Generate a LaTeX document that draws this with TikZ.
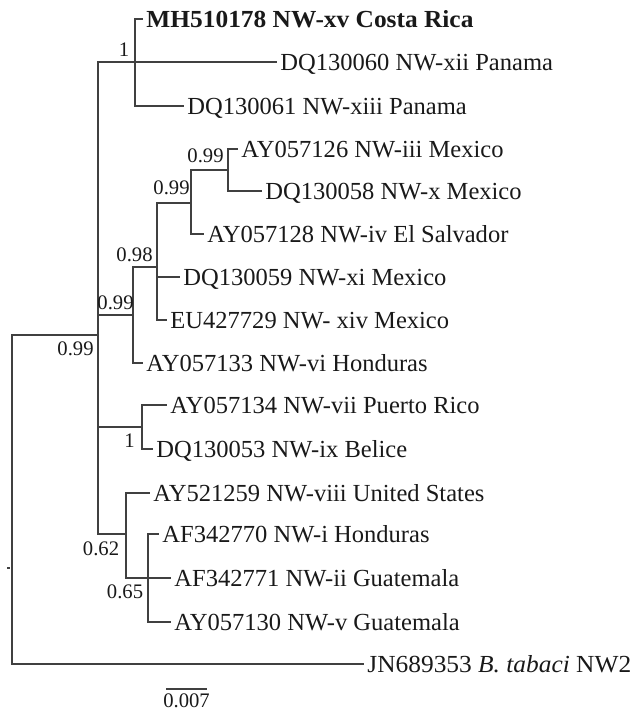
\documentclass[tikz,border=0pt]{standalone}
\usepackage{fontspec}
\setmainfont{Liberation Serif}
\begin{document}
\begin{tikzpicture}[x=0.75pt,y=-0.75pt,
  br/.style={draw=black!75, line width=1.2pt},
  leaf/.style={anchor=west, inner xsep=2.4pt, inner ysep=0pt, text height=12.1pt, text depth=0pt,
    font=\fontsize{18.4}{20}\selectfont, text=black!90},
  wide/.style={font=\fontsize{18.4}{20}\selectfont\addfontfeature{FakeStretch=1.035}},
  sup/.style={anchor=base, inner sep=0pt, font=\fontsize{15.5}{17}\selectfont, text=black!90}]
\useasboundingbox (0,0) rectangle (632,712);
% internal nodes
\coordinate (R) at (12,499.5);
\coordinate (A) at (98,335);
\coordinate (B) at (135,62);
\coordinate (C) at (133,315);
\coordinate (F) at (157,267);
\coordinate (G) at (191,203);
\coordinate (H) at (228,170);
\coordinate (D) at (142,427);
\coordinate (E) at (126,534);
\coordinate (I) at (148,578);
% leaves
\node[leaf, wide] (t1) at (143,19) {\textbf{MH510178 NW-xv Costa Rica}};
\node[leaf] (t2) at (277,62) {DQ130060 NW-xii Panama};
\node[leaf] (t3) at (184,106) {DQ130061 NW-xiii Panama};
\node[leaf] (t4) at (238,149) {AY057126 NW-iii Mexico};
\node[leaf] (t5) at (262,191) {DQ130058 NW-x Mexico};
\node[leaf] (t6) at (204,234) {AY057128 NW-iv El Salvador};
\node[leaf] (t7) at (180,277) {DQ130059 NW-xi Mexico};
\node[leaf] (t8) at (167,320) {EU427729 NW- xiv Mexico};
\node[leaf] (t9) at (143,363) {AY057133 NW-vi Honduras};
\node[leaf] (t10) at (167,405) {AY057134 NW-vii Puerto Rico};
\node[leaf] (t11) at (153,449) {DQ130053 NW-ix Belice};
\node[leaf] (t12) at (150,493) {AY521259 NW-viii United States};
\node[leaf] (t13) at (159,534) {AF342770 NW-i Honduras};
\node[leaf] (t14) at (171,578) {AF342771 NW-ii Guatemala};
\node[leaf] (t15) at (171,622) {AY057130 NW-v Guatemala};
\node[leaf, wide] (t16) at (364,664) {JN689353 \textit{B. tabaci} NW2};
% branches
\draw[br] (R) |- (A);
\draw[br] (R) |- (t16.west);
\draw[br] (A) |- (B);
\draw[br] (A) |- (C);
\draw[br] (A) |- (D);
\draw[br] (A) |- (E);
\draw[br] (B) |- (t1.west);
\draw[br] (B) |- (t2.west);
\draw[br] (B) |- (t3.west);
\draw[br] (C) |- (F);
\draw[br] (C) |- (t9.west);
\draw[br] (F) |- (G);
\draw[br] (F) |- (t7.west);
\draw[br] (F) |- (t8.west);
\draw[br] (G) |- (H);
\draw[br] (G) |- (t6.west);
\draw[br] (H) |- (t4.west);
\draw[br] (H) |- (t5.west);
\draw[br] (D) |- (t10.west);
\draw[br] (D) |- (t11.west);
\draw[br] (E) |- (t12.west);
\draw[br] (E) |- (I);
\draw[br] (I) |- (t13.west);
\draw[br] (I) |- (t14.west);
\draw[br] (I) |- (t15.west);
% support values
\node[sup] (sB) at (124,57) {1};
\node[sup] (sH) at (205.5,163) {0.99};
\node[sup] (sG) at (171.5,195) {0.99};
\node[sup] (sF) at (134.5,262) {0.98};
\node[sup] (sC) at (115.5,310) {0.99};
\node[sup] (sA) at (75.5,355) {0.99};
\node[sup] (sD) at (129.5,447) {1};
\node[sup] (sE) at (101,555) {0.62};
\node[sup] (sI) at (125,598) {0.65};
% small tick
\coordinate (k1) at (7,568);
\coordinate (k2) at (10,568);
\draw[br] (k1) -- (k2);
% scale bar
\coordinate (s1) at (166,689);
\coordinate (s2) at (207,689);
\draw[br] (s1) -- (s2);
\node[sup] (sc) at (186.5,707) {0.007};
\end{tikzpicture}
\end{document}
